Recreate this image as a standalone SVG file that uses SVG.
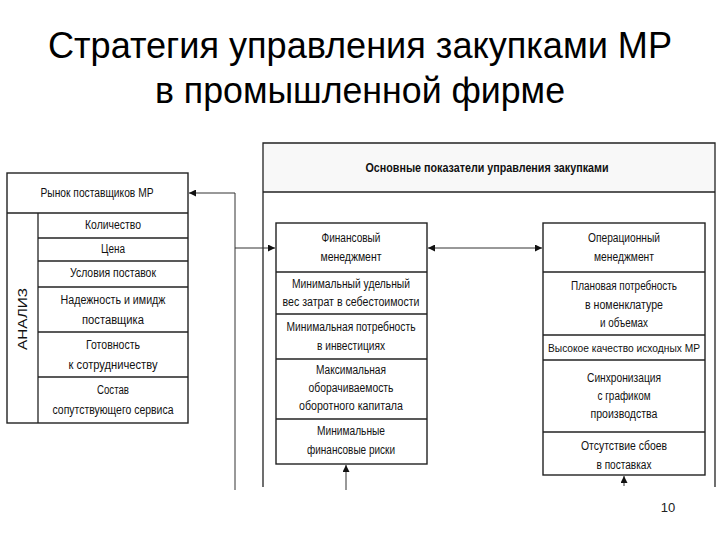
<svg xmlns="http://www.w3.org/2000/svg" width="720" height="540" viewBox="0 0 720 540">
<defs>
<marker id="ah" viewBox="0 0 10 10" refX="10" refY="5" markerWidth="7" markerHeight="7" markerUnits="userSpaceOnUse" orient="auto">
<path d="M0,0 L10,5 L0,10 z" fill="#111"/>
</marker>
<style>
.box{fill:#fff;stroke:#222;stroke-width:1.4}
.ln{stroke:#222;stroke-width:1.3;fill:none}
.cn{stroke:#333;stroke-width:1;fill:none}
.t{font-family:"Liberation Sans",Arial,sans-serif;font-size:12.5px;fill:#111;text-anchor:middle;dominant-baseline:central}
.title{font-family:"Liberation Sans",Arial,sans-serif;font-size:37px;fill:#000;text-anchor:middle}
</style>
</defs>
<rect width="720" height="540" fill="#fff"/>
<g id="title">
<text class="title" x="360" y="58" textLength="624" lengthAdjust="spacingAndGlyphs">Стратегия управления закупками МР</text>
<text class="title" x="360" y="103" textLength="410" lengthAdjust="spacingAndGlyphs">в промышленной фирме</text>
</g>
<g id="market">
<rect class="box" x="7" y="173" width="181" height="250"/>
<line class="ln" x1="7" y1="213" x2="188" y2="213"/>
<line class="ln" x1="38" y1="213" x2="38" y2="423"/>
<line class="ln" x1="38" y1="238" x2="188" y2="238"/>
<line class="ln" x1="38" y1="261" x2="188" y2="261"/>
<line class="ln" x1="38" y1="287" x2="188" y2="287"/>
<line class="ln" x1="38" y1="332" x2="188" y2="332"/>
<line class="ln" x1="38" y1="377" x2="188" y2="377"/>
<text class="t" x="97" y="193" textLength="113" lengthAdjust="spacingAndGlyphs">Рынок поставщиков МР</text>
<text class="t" x="113" y="225" textLength="56" lengthAdjust="spacingAndGlyphs">Количество</text>
<text class="t" x="113" y="249" textLength="24" lengthAdjust="spacingAndGlyphs">Цена</text>
<text class="t" x="113" y="273" textLength="86" lengthAdjust="spacingAndGlyphs">Условия поставок</text>
<text class="t" x="113" y="300" textLength="105" lengthAdjust="spacingAndGlyphs">Надежность и имидж</text>
<text class="t" x="113" y="320" textLength="62" lengthAdjust="spacingAndGlyphs">поставщика</text>
<text class="t" x="113" y="345" textLength="54" lengthAdjust="spacingAndGlyphs">Готовность</text>
<text class="t" x="113" y="365" textLength="89" lengthAdjust="spacingAndGlyphs">к сотрудничеству</text>
<text class="t" x="113" y="390" textLength="32" lengthAdjust="spacingAndGlyphs">Состав</text>
<text class="t" x="113" y="410" textLength="121" lengthAdjust="spacingAndGlyphs">сопутствующего сервиса</text>
<text class="t" x="22" y="319" transform="rotate(-90 22 319)" style="font-size:13px" textLength="62" lengthAdjust="spacingAndGlyphs">АНАЛИЗ</text>
</g>
<g id="indicators">
<rect x="263" y="143" width="452" height="49" fill="#f8f8f8"/>
<path class="ln" d="M263,487 V143 H715 V487"/>
<line class="ln" x1="263" y1="192" x2="715" y2="192"/>
<text class="t" x="487" y="168" style="font-weight:bold;font-size:12.5px" textLength="243" lengthAdjust="spacingAndGlyphs">Основные показатели управления закупками</text>
</g>
<g id="financial">
<rect class="box" x="276" y="223" width="151" height="241"/>
<line class="ln" x1="276" y1="272" x2="427" y2="272"/>
<line class="ln" x1="276" y1="314" x2="427" y2="314"/>
<line class="ln" x1="276" y1="359" x2="427" y2="359"/>
<line class="ln" x1="276" y1="419" x2="427" y2="419"/>
<text class="t" x="351" y="238" textLength="59" lengthAdjust="spacingAndGlyphs">Финансовый</text>
<text class="t" x="351" y="257" textLength="61" lengthAdjust="spacingAndGlyphs">менеджмент</text>
<text class="t" x="351" y="284" textLength="118" lengthAdjust="spacingAndGlyphs">Минимальный удельный</text>
<text class="t" x="351" y="302" textLength="137" lengthAdjust="spacingAndGlyphs">вес затрат в себестоимости</text>
<text class="t" x="351" y="327" textLength="129" lengthAdjust="spacingAndGlyphs">Минимальная потребность</text>
<text class="t" x="351" y="346" textLength="68" lengthAdjust="spacingAndGlyphs">в инвестициях</text>
<text class="t" x="351" y="370" textLength="70" lengthAdjust="spacingAndGlyphs">Максимальная</text>
<text class="t" x="351" y="388" textLength="85" lengthAdjust="spacingAndGlyphs">оборачиваемость</text>
<text class="t" x="351" y="406" textLength="104" lengthAdjust="spacingAndGlyphs">оборотного капитала</text>
<text class="t" x="351" y="431" textLength="68" lengthAdjust="spacingAndGlyphs">Минимальные</text>
<text class="t" x="351" y="450" textLength="88" lengthAdjust="spacingAndGlyphs">финансовые риски</text>
</g>
<g id="operational">
<rect class="box" x="543" y="223" width="162" height="252"/>
<line class="ln" x1="543" y1="272" x2="705" y2="272"/>
<line class="ln" x1="543" y1="335" x2="705" y2="335"/>
<line class="ln" x1="543" y1="360" x2="705" y2="360"/>
<line class="ln" x1="543" y1="432" x2="705" y2="432"/>
<text class="t" x="624" y="238" textLength="72" lengthAdjust="spacingAndGlyphs">Операционный</text>
<text class="t" x="624" y="257" textLength="60" lengthAdjust="spacingAndGlyphs">менеджмент</text>
<text class="t" x="624" y="286" textLength="106" lengthAdjust="spacingAndGlyphs">Плановая потребность</text>
<text class="t" x="624" y="305" textLength="78" lengthAdjust="spacingAndGlyphs">в номенклатуре</text>
<text class="t" x="624" y="323" textLength="48" lengthAdjust="spacingAndGlyphs">и объемах</text>
<text class="t" x="624" y="348" style="font-size:11px" textLength="152" lengthAdjust="spacingAndGlyphs">Высокое качество исходных МР</text>
<text class="t" x="624" y="378" textLength="74" lengthAdjust="spacingAndGlyphs">Синхронизация</text>
<text class="t" x="624" y="396" textLength="53" lengthAdjust="spacingAndGlyphs">с графиком</text>
<text class="t" x="624" y="414" textLength="67" lengthAdjust="spacingAndGlyphs">производства</text>
<text class="t" x="624" y="446" textLength="86" lengthAdjust="spacingAndGlyphs">Отсутствие сбоев</text>
<text class="t" x="624" y="465" textLength="55" lengthAdjust="spacingAndGlyphs">в поставках</text>
</g>
<g id="connectors">
<path class="cn" d="M235,490 V193 H189" marker-end="url(#ah)"/>
<path class="cn" d="M235,248 H275" marker-end="url(#ah)"/>
<path class="cn" d="M485,248 H428" marker-end="url(#ah)"/>
<path class="cn" d="M485,248 H542" marker-end="url(#ah)"/>
<path class="cn" d="M346,490 V465" marker-end="url(#ah)"/>
<path class="cn" d="M624,486 V476" marker-end="url(#ah)"/>
</g>
<g id="page">
<text x="668" y="512" style="font-family:'Liberation Sans',sans-serif;font-size:13px;fill:#222;text-anchor:middle">10</text>
</g>
</svg>
